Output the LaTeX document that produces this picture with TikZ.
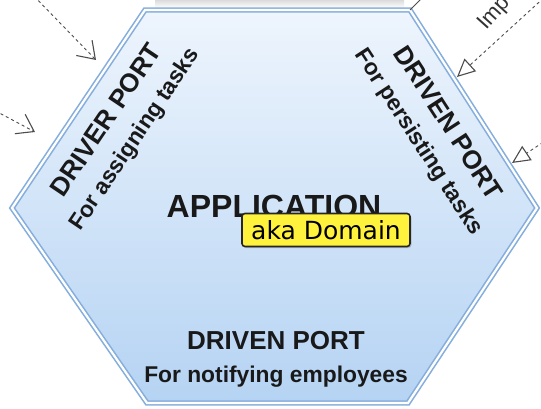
\documentclass[tikz,border=0pt]{standalone}
\usepackage{fontspec}
\setmainfont{Liberation Sans}
\newfontfamily\dejavu{DejaVu Sans}
\usetikzlibrary{arrows.meta,shadows}
\definecolor{hexedge}{HTML}{86AEDC}
\definecolor{hextop}{HTML}{EEF5FD}
\definecolor{hexbot}{HTML}{B5D3F3}
\definecolor{akayellow}{HTML}{FFF23C}
\newcommand\portsub{\fontsize{22.8}{33}\selectfont}
\tikzset{
  hexborder/.style={draw=hexedge, line width=1.6pt, double=white, double distance=2.2pt,
    top color=hextop, bottom color=hexbot},
  portname/.style={align=center, inner sep=0pt, text=black!90,
    font=\fontsize{26}{33}\selectfont\bfseries},
  akabox/.style={draw=black!85, line width=1.6pt, fill=akayellow, rounded corners=3pt,
    minimum width=168pt, minimum height=33pt, inner sep=0pt,
    font=\dejavu\fontsize{25}{28}\selectfont,
    drop shadow={shadow xshift=1.5pt, shadow yshift=-1.5pt, opacity=.4}},
  uses/.style={draw=black!70, line width=0.9pt, dash pattern=on 3pt off 3pt,
    -{Straight Barb[length=16pt, width=22pt, line width=1.1pt]}},
  implements/.style={draw=black!70, line width=0.9pt, dash pattern=on 3pt off 3pt,
    -{Triangle[open, fill=white, length=18pt, width=17pt, line width=1.1pt]}},
}
\begin{document}
\begin{tikzpicture}[x=1pt, y=-1pt]
  \useasboundingbox (0,0) rectangle (541,409);
  \fill[white] (0,0) rectangle (541,409);

  % shade of the frame above
  \shade[top color=black!14, bottom color=white] (155,0) rectangle (404,8);

  % the hexagon
  \coordinate (nw) at (145,10);
  \coordinate (ne) at (410,10);
  \coordinate (e)  at (537,208);
  \coordinate (se) at (408,403);
  \coordinate (sw) at (147,403);
  \coordinate (w)  at (12,208);
  \draw[hexborder] (nw) -- (ne) -- (e) -- (se) -- (sw) -- (w) -- cycle;

  % ports
  \node[portname, rotate=56] (driver) at (121,130)
    {DRIVER PORT\\{\portsub For assigning tasks}};
  \node[portname, rotate=-57] (persist) at (433,133)
    {DRIVEN PORT\\{\portsub For persisting tasks}};
  \node[portname] (notify) at (276,359)
    {DRIVEN PORT\\{\portsub For notifying employees}};

  \node[font=\fontsize{32}{36}\selectfont\bfseries, text=black!90, anchor=base,
    inner sep=0pt] (app) at (274,217) {APPLICATION};
  \node[akabox] (aka) at (326,230) {aka Domain};

  % connectors coming in from outside
  \coordinate (u1) at (30,-8);
  \coordinate (u1tip) at (96,60);
  \coordinate (u2) at (-10,108);
  \coordinate (u2tip) at (35,132);
  \coordinate (i1) at (548,-6);
  \coordinate (i1tip) at (457,77);
  \coordinate (i2) at (548,139);
  \coordinate (i2tip) at (512,163);
  \coordinate (ext) at (424,-4);

  \draw[uses] (u1) -- (u1tip);
  \draw[uses] (u2) -- (u2tip);
  \draw[implements] (i1) -- (i1tip);
  \draw[implements] (i2) -- (i2tip);
  \draw[black!70, line width=0.8pt] (ne) -- (ext);

  \node[font=\fontsize{22}{26}\selectfont, text=black!80, rotate=48, anchor=base west,
    inner sep=0pt] (implbl) at (486,31) {Imp};
\end{tikzpicture}
\end{document}
